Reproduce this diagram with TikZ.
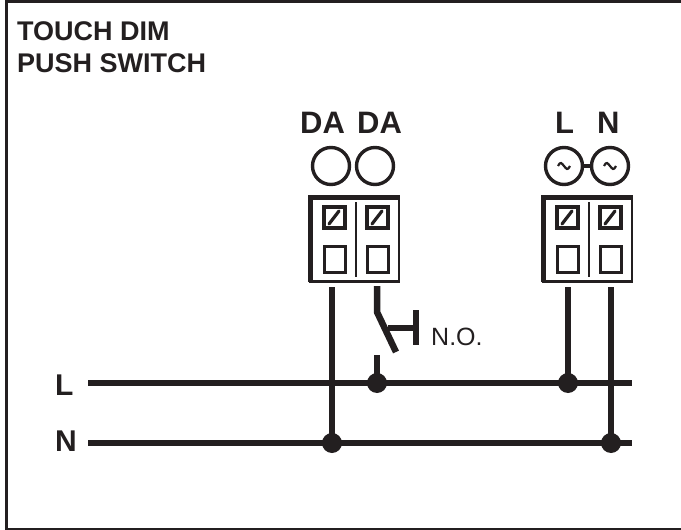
\documentclass[tikz,border=0pt]{standalone}
\usepackage{fontspec}
\setmainfont{Liberation Sans}
\definecolor{ink}{HTML}{231F20}
\tikzset{
  wire/.style={draw=ink,line width=6.5pt},
  joint/.style={circle,fill=ink,draw=none,minimum size=20pt,inner sep=0pt},
  head/.style={anchor=base west,inner sep=0pt,text=ink,font=\bfseries\fontsize{31}{34}\selectfont},
  titletext/.style={anchor=base west,inner sep=0pt,text=ink,font=\bfseries\fontsize{27}{31}\selectfont},
  sidetext/.style={anchor=base west,inner sep=0pt,text=ink,font=\bfseries\fontsize{30}{34}\selectfont},
  terminal/.style={circle,draw=ink,line width=3.4pt,minimum size=37pt,inner sep=0pt},
  box/.style={draw=ink,line width=3.2pt,fill=white},
  lowbox/.style={draw=ink,line width=3pt,fill=white},
}
\begin{document}
\begin{tikzpicture}[x=1pt,y=-1pt]
\useasboundingbox (0,0) rectangle (681,530);
% frame
\draw[draw=ink,line width=2.6pt] (6.3,530) -- (6.3,1.2) -- (681,1.2);
\draw[draw=ink,line width=2pt] (6.3,529) -- (681,529);
% title
\node[titletext] (t1) at (17,41) {TOUCH DIM};
\node[titletext] (t2) at (17,72) {PUSH SWITCH};
% heads
\node[head] (da1) at (300,133) {DA};
\node[head] (da2) at (357,133) {DA};
\node[head] (hl) at (555,133) {L};
\node[head] (hn) at (597,133) {N};
% terminals
\node[terminal] (c1) at (331,166) {};
\node[terminal] (c2) at (375,166) {};
\node[terminal] (c3) at (564,166) {};
\node[terminal] (c4) at (610,166) {};
\draw[draw=ink,line width=4.5pt] (c3) -- (c4);
\foreach \c in {c3,c4}{
  \draw[draw=ink,line width=2.2pt] ([xshift=-6pt]\c.center) .. controls +(2.5,-5) and +(-2.5,-3) .. (\c.center) .. controls +(2.5,3) and +(-2.5,5) .. ([xshift=6pt]\c.center);
}
% blocks
\foreach \x/\n in {309/a,542/b}{
  \draw[draw=ink,line width=2.6pt] (\x+1.5,197.5) rectangle (\x+90,281.5);
  \draw[draw=ink,line width=4.2pt] (\x+1.5,282) -- (\x+1.5,197.5) -- (\x+91,197.5);
  \draw[draw=ink,line width=1.4pt] (\x+47,202) -- (\x+47,277);
  \foreach \d in {15,58}{
    \draw[box] (\x+\d,207) rectangle (\x+\d+21,228);
    \draw[draw=ink,line width=3.2pt,line cap=round] (\x+\d+5,224) -- (\x+\d+15,211);
    \draw[lowbox] (\x+\d,246) rectangle (\x+\d+21,272);
  }
}
% named points
\coordinate (ta) at (332,287);
\coordinate (tb) at (377,286);
\coordinate (tc) at (568,287);
\coordinate (td) at (611,287);
\coordinate (lstart) at (88,383);
\coordinate (lend) at (632,383);
\coordinate (nstart) at (88,443);
\coordinate (nend) at (632,443);
\coordinate (swa) at (377,312);
\coordinate (swb) at (396,352);
\coordinate (swc) at (388,328);
\coordinate (swd) at (416,328);
\coordinate (bar1) at (416,310);
\coordinate (bar2) at (416,345);
\coordinate (stub) at (377,355);
% wires
\draw[wire] (lstart) -- (lend);
\draw[wire] (nstart) -- (nend);
\node[joint] (j1) at (377,383) {};
\node[joint] (j2) at (568,383) {};
\node[joint] (j3) at (332,443) {};
\node[joint] (j4) at (611,443) {};
\draw[wire] (ta) -- (j3.center);
\draw[wire] (tc) -- (j2.center);
\draw[wire] (td) -- (j4.center);
\draw[wire] (stub) -- (j1.center);
\draw[wire,line join=bevel] (tb) -- (swa) -- (swb);
\draw[wire] (swc) -- (swd);
\draw[wire] (bar1) -- (bar2);
% labels
\node[anchor=base west,inner sep=0pt,text=ink,font=\fontsize{25}{28}\selectfont] (no) at (431,345) {N.O.};
\node[sidetext] (ll) at (55,395) {L};
\node[sidetext] (ln) at (55,451) {N};
\end{tikzpicture}
\end{document}
